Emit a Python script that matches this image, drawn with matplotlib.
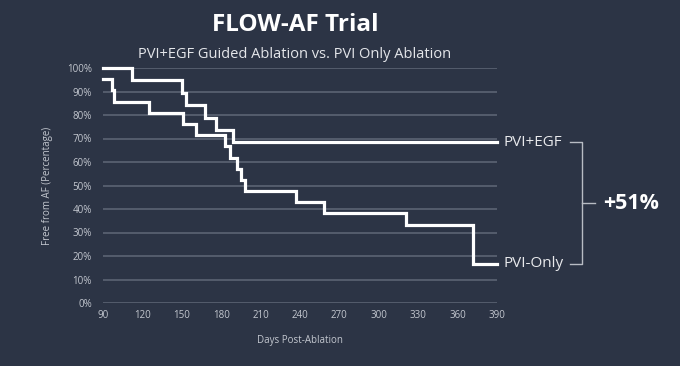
import matplotlib
matplotlib.use("Agg")
import matplotlib.pyplot as plt

# Kaplan-Meier style step data
egf_days = [90, 112, 150, 153, 168, 176, 189, 390]
egf_surv = [100, 94.7, 89.5, 84.2, 78.9, 73.7, 68.4, 68.4]

pvi_days = [90, 97, 98, 125, 151, 161, 183, 187, 192, 195, 198, 237, 258, 321, 372, 390]
pvi_surv = [95.2, 90.5, 85.7, 81.0, 76.2, 71.4, 66.7, 61.9, 57.1, 52.4, 47.6, 42.9, 38.1, 33.3, 16.7, 16.7]

x_ticks = [90, 120, 150, 180, 210, 240, 270, 300, 330, 360, 390]
y_ticks = [0, 10, 20, 30, 40, 50, 60, 70, 80, 90, 100]
y_ticklabels = [f"{v}%" for v in y_ticks]

bg = "#2c3445"
grid_col = "#555d6d"
txt_col = "#c3c7cf"

plt.rcParams['font.family'] = ['Open Sans', 'DejaVu Sans']

fig = plt.figure(figsize=(6.8, 3.66), dpi=100, facecolor=bg)
ax = fig.add_axes([103 / 680, 63 / 366, 394 / 680, 235 / 366])
ax.set_facecolor(bg)

for v in y_ticks:
    ax.axhline(v, color=grid_col, lw=1.4, zorder=1)

ax.plot(egf_days, egf_surv, drawstyle='steps-post', color='white', lw=2.3,
        solid_joinstyle='miter', clip_on=False, zorder=3)
ax.plot(pvi_days, pvi_surv, drawstyle='steps-post', color='white', lw=2.3,
        solid_joinstyle='miter', clip_on=False, zorder=3)

ax.set_xlim(90, 390)
ax.set_ylim(0, 100)
ax.set_xticks(x_ticks)
ax.set_yticks(y_ticks)
ax.set_yticklabels(y_ticklabels)
ax.tick_params(length=0, colors=txt_col, labelsize=7)
ax.tick_params(axis='y', pad=8)
ax.tick_params(axis='x', pad=5)
for s in ax.spines.values():
    s.set_visible(False)

ax.set_xlabel("Days Post-Ablation", color=txt_col, fontsize=7, labelpad=10)
ax.set_ylabel("Free from AF (Percentage)", color=txt_col, fontsize=7, labelpad=10)

# titles
fig.text(295 / 680, 1 - 25 / 366, "FLOW-AF Trial", ha='center', va='center',
         color='white', fontsize=17.5, fontweight='bold')
fig.text(295 / 680, 1 - 55 / 366, "PVI+EGF Guided Ablation vs. PVI Only Ablation",
         ha='center', va='center', color='#e4e6ea', fontsize=10.5)

# end labels and bracket
ax.text(394.6, egf_surv[-1], "PVI+EGF", color='#e8e9ec', fontsize=11,
        va='center', ha='left', clip_on=False)
ax.text(394.6, pvi_surv[-1], "PVI-Only", color='#e8e9ec', fontsize=11,
        va='center', ha='left', clip_on=False)

br_col = '#b8bcc4'
mid = (egf_surv[-1] + pvi_surv[-1]) / 2
ax.plot([445.6, 454.7, 454.7, 445.6], [egf_surv[-1], egf_surv[-1], pvi_surv[-1], pvi_surv[-1]],
        color=br_col, lw=1, clip_on=False)
ax.plot([454.7, 464.6], [mid, mid], color=br_col, lw=1, clip_on=False)
ax.text(470.7, mid, "+51%", color='white', fontsize=15.5, fontweight='bold',
        va='center', ha='left', clip_on=False)

fig.savefig("out.png", dpi=100, facecolor=bg)
